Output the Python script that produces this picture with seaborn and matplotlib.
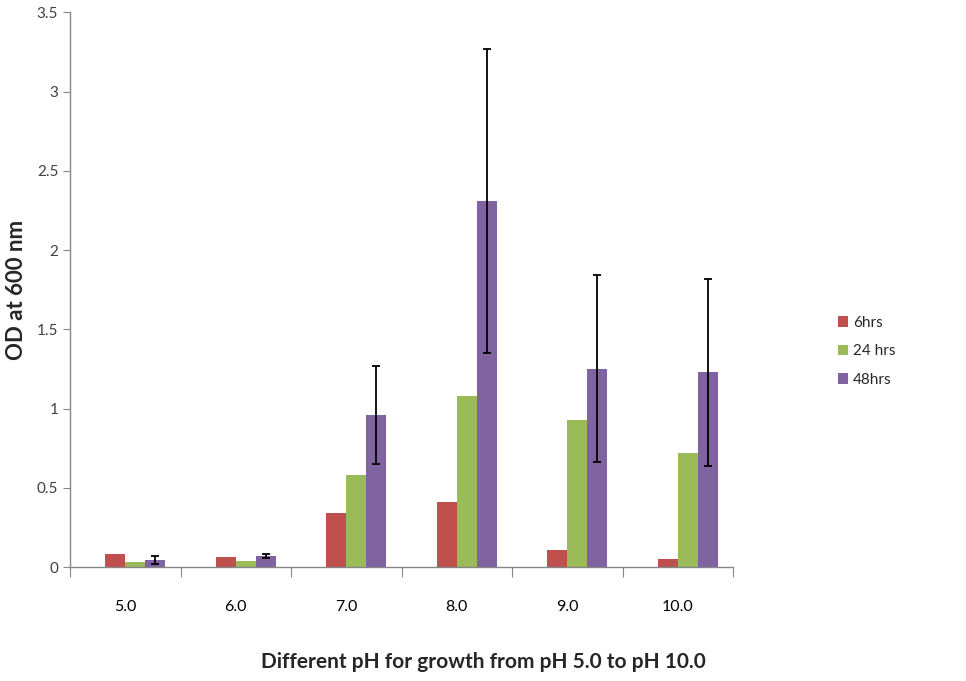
import numpy as np
import pandas as pd
import matplotlib
matplotlib.use("Agg")
import matplotlib.pyplot as plt
import seaborn as sns

# values
ph_levels = ["5.0", "6.0", "7.0", "8.0", "9.0", "10.0"]
od_6hrs = [0.08, 0.06, 0.34, 0.41, 0.11, 0.05]
od_24hrs = [0.03, 0.04, 0.58, 1.08, 0.93, 0.72]
od_48hrs = [0.045, 0.07, 0.96, 2.31, 1.25, 1.23]
err_48hrs = [0.026, 0.012, 0.31, 0.96, 0.59, 0.59]
series_names = ["6hrs", "24 hrs", "48hrs"]
colors = ["#C0504D", "#9BBB59", "#8064A2"]

# the original chart keeps an empty first slot in each group
blank = " "
df = pd.DataFrame({
    "pH": ph_levels * 4,
    "OD": [0.0] * len(ph_levels) + od_6hrs + od_24hrs + od_48hrs,
    "time": [s for s in [blank] + series_names for _ in ph_levels],
})

sns.set_style("white")
plt.rcParams["font.family"] = ["Lato", "DejaVu Sans"]

fig = plt.figure(figsize=(9.66, 6.81), dpi=100)
ax = fig.add_axes([0.0725, 0.1674, 0.6865, 0.8146])

sns.barplot(data=df, x="pH", y="OD", hue="time", order=ph_levels,
            hue_order=[blank] + series_names,
            palette=["white"] + colors, width=0.724,
            errorbar=None, saturation=1, linewidth=0, ax=ax)

# error bars on the 48hrs series, positioned from the drawn bars
purple_bars = ax.containers[3]
xs = [p.get_x() + p.get_width() / 2 for p in purple_bars]
ax.errorbar(xs, od_48hrs, yerr=err_48hrs, fmt="none", ecolor="black",
            elinewidth=1.3, capsize=3, capthick=1.3)

ax.set_xlim(-0.5, len(ph_levels) - 0.5)
ax.set_ylim(0, 3.5)
ax.set_yticks(np.arange(0, 3.51, 0.5))
ax.set_yticklabels(["0", "0.5", "1", "1.5", "2", "2.5", "3", "3.5"])

# tick marks at category boundaries, labels centered below each group
ax.set_xticks(np.arange(-0.5, len(ph_levels), 1.0))
ax.set_xticklabels([])
ax.set_xticks(np.arange(len(ph_levels)), minor=True)
ax.set_xticklabels(ph_levels, minor=True)
ax.tick_params(axis="x", which="major", direction="out", length=7,
               color="#868686", bottom=True)
ax.tick_params(axis="x", which="minor", length=0, pad=24,
               labelsize=11.5, labelcolor="black")
ax.tick_params(axis="y", direction="out", length=5, color="#868686",
               left=True, labelsize=11, labelcolor="#404040")

for side in ["top", "right"]:
    ax.spines[side].set_visible(False)
for side in ["left", "bottom"]:
    ax.spines[side].set_color("#868686")
    ax.spines[side].set_linewidth(1)

ax.set_xlabel("")
ax.set_ylabel("")
fig.text(17 / 966, 1 - 290 / 681, "OD at 600 nm", rotation=90,
         ha="center", va="center", fontsize=16, fontweight="bold")
fig.text(0.5, 1 - 662 / 681, "Different pH for growth from pH 5.0 to pH 10.0",
         ha="center", va="center", fontsize=15, fontweight="bold")

handles, labels = ax.get_legend_handles_labels()
keep = [i for i, lab in enumerate(labels) if lab != blank]
ax.legend([handles[i] for i in keep], [labels[i] for i in keep],
          loc="center left", bbox_to_anchor=(1.137, 0.389), frameon=False,
          fontsize=11, handlelength=0.7, handleheight=0.7,
          labelspacing=0.95, handletextpad=0.3)

fig.savefig("out.png", dpi=100)
